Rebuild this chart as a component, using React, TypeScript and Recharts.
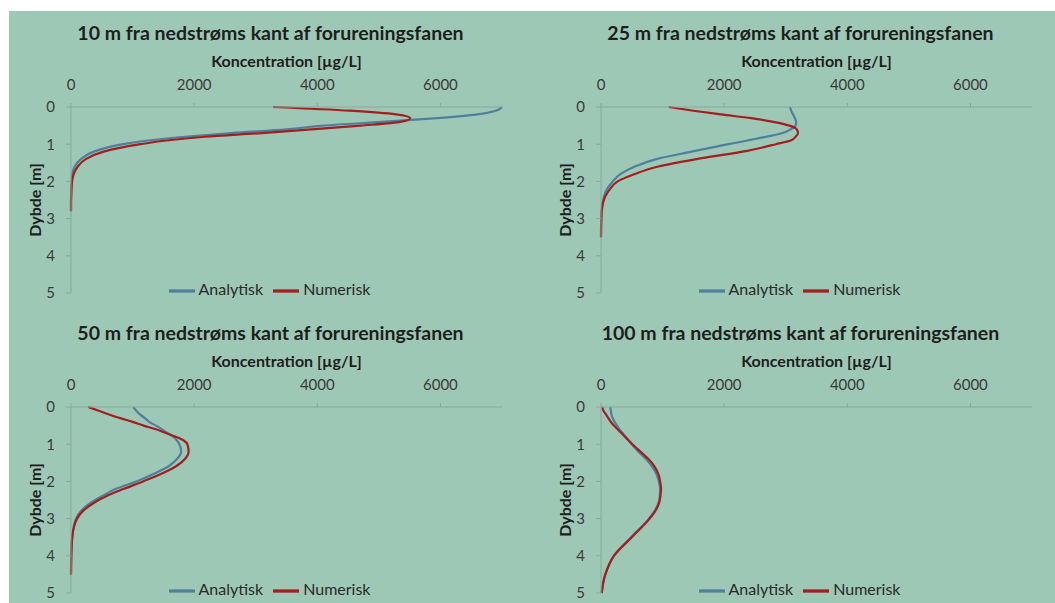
import React from 'react';
import { LineChart, Line, XAxis, YAxis, Legend } from 'recharts';

// depth samples (m) shared by every profile
const DEPTH_M = [0, 0.1, 0.2, 0.3, 0.4, 0.5, 0.6, 0.7, 0.8, 0.9, 1.0, 1.2, 1.4, 1.6, 1.8, 2.0, 2.2, 2.4, 2.6, 2.8, 3.0, 3.5, 4.0, 4.5, 5.0];

// concentration [µg/L], null = no line drawn
const P10_ANALYTISK = [7000, 6900, 6600, 5950, 5050, 4100, 3500, 2600, 1850, 1250, 850, 370, 160, 60, 20, 10, 5, 2, 0, 0, null, null, null, null, null];
const P10_NUMERISK = [3280, 4530, 5280, 5510, 5350, 4700, 3900, 3100, 2180, 1550, 1130, 530, 240, 110, 45, 18, 8, 3, 0, 0, null, null, null, null, null];

const P25_ANALYTISK = [3070, 3090, 3120, 3150, 3170, 3160, 3080, 2950, 2680, 2380, 2070, 1470, 900, 550, 320, 190, 100, 50, 25, 10, 5, 0, null, null, null];
const P25_NUMERISK = [1100, 1500, 1950, 2440, 2800, 3060, 3180, 3200, 3160, 3080, 2840, 2300, 1550, 930, 550, 270, 150, 70, 30, 12, 5, 0, null, null, null];

const P50_ANALYTISK = [1010, 1060, 1120, 1200, 1270, 1380, 1480, 1570, 1660, 1720, 1760, 1790, 1720, 1580, 1340, 1060, 730, 500, 300, 160, 80, 20, 5, 0, null];
const P50_NUMERISK = [280, 450, 620, 800, 1000, 1180, 1380, 1540, 1700, 1830, 1890, 1910, 1850, 1700, 1460, 1170, 860, 570, 350, 190, 100, 20, 5, 0, null];

const P100_ANALYTISK = [150, 160, 170, 190, 220, 260, 300, 350, 400, 450, 500, 610, 730, 830, 900, 940, 960, 955, 930, 870, 780, 490, 210, 70, 10];
const P100_NUMERISK = [20, 40, 80, 120, 160, 210, 270, 330, 390, 450, 510, 640, 770, 870, 930, 960, 975, 965, 940, 880, 790, 500, 210, 70, 10];

const TITLES = [
  '10 m fra nedstrøms kant af forureningsfanen',
  '25 m fra nedstrøms kant af forureningsfanen',
  '50 m fra nedstrøms kant af forureningsfanen',
  '100 m fra nedstrøms kant af forureningsfanen',
];

const X_TICKS = [0, 2000, 4000, 6000];
const Y_TICKS = [0, 1, 2, 3, 4, 5];

const BG = '#9ec8b6';
const AXIS = '#86a898';
const TEXT = '#1e1e1e';
const BLUE = '#4f7f9d';
const RED = '#a31e1c';

const W = 523;
const H = 300;

const DepthLabel = (props: any) => {
  const vb = props.viewBox || { y: 100, height: 186 };
  const cy = vb.y + vb.height / 2;
  return (
    <text
      x={25}
      y={cy}
      transform={`rotate(-90 25 ${cy})`}
      textAnchor="middle"
      dominantBaseline="central"
      fill={TEXT}
      fontSize={16}
      fontWeight="bold"
    >
      Dybde [m]
    </text>
  );
};

const Panel = ({ title, analytisk, numerisk, left, top }: any) => {
  const data = DEPTH_M.map((d, i) => ({ depth: d, Analytisk: analytisk[i], Numerisk: numerisk[i] }));
  return (
    <div style={{ position: 'absolute', left, top, width: W, height: H }}>
      <div
        style={{
          position: 'absolute',
          top: 14,
          left: 0,
          width: W,
          textAlign: 'center',
          fontWeight: 'bold',
          fontSize: 19.5,
          color: TEXT,
          lineHeight: '24px',
        }}
      >
        {title}
      </div>
      <LineChart layout="vertical" width={W} height={H} data={data} margin={{ top: 40, right: 30, bottom: 14, left: 0 }}>
        <XAxis
          type="number"
          orientation="top"
          domain={[0, 7000]}
          ticks={X_TICKS}
          height={60}
          tickSize={4}
          tickMargin={13}
          axisLine={{ stroke: AXIS }}
          tickLine={{ stroke: AXIS }}
          tick={{ fill: '#3a3a3a', fontSize: 15 }}
          label={{ value: 'Koncentration [µg/L]', position: 'insideTop', offset: 9, fill: TEXT, fontSize: 16, fontWeight: 'bold' }}
        />
        <YAxis
          type="number"
          dataKey="depth"
          domain={[0, 5]}
          ticks={Y_TICKS}
          width={62}
          tickSize={5}
          tickMargin={11}
          axisLine={{ stroke: AXIS }}
          tickLine={{ stroke: AXIS }}
          tick={{ fill: '#3a3a3a', fontSize: 15 }}
          label={<DepthLabel />}
        />
        <Legend
          verticalAlign="middle"
          align="center"
          layout="horizontal"
          iconType="plainline"
          iconSize={26}
          wrapperStyle={{ top: 271, left: 4, width: W, fontSize: 16 }}
          formatter={(v: any) => <span style={{ color: '#2a2a2a' }}>{v}</span>}
        />
        <Line type="monotone" dataKey="Analytisk" stroke={BLUE} strokeWidth={2.2} dot={false} isAnimationActive={false} />
        <Line type="monotone" dataKey="Numerisk" stroke={RED} strokeWidth={2.2} dot={false} isAnimationActive={false} />
      </LineChart>
    </div>
  );
};

export default function App() {
  const series = [
    [P10_ANALYTISK, P10_NUMERISK],
    [P25_ANALYTISK, P25_NUMERISK],
    [P50_ANALYTISK, P50_NUMERISK],
    [P100_ANALYTISK, P100_NUMERISK],
  ];
  return (
    <div
      style={{
        position: 'absolute',
        left: 0,
        top: 0,
        width: 1055,
        height: 603,
        background: '#fff',
        overflow: 'hidden',
        fontFamily: 'Lato, sans-serif',
      }}
    >
      <div style={{ position: 'absolute', left: 9, top: 11, width: 1046, height: 592, background: BG }} />
      {TITLES.map((t, i) => (
        <Panel
          key={t}
          title={t}
          analytisk={series[i][0]}
          numerisk={series[i][1]}
          left={9 + (i % 2) * 530}
          top={7 + Math.floor(i / 2) * 300}
        />
      ))}
    </div>
  );
}
